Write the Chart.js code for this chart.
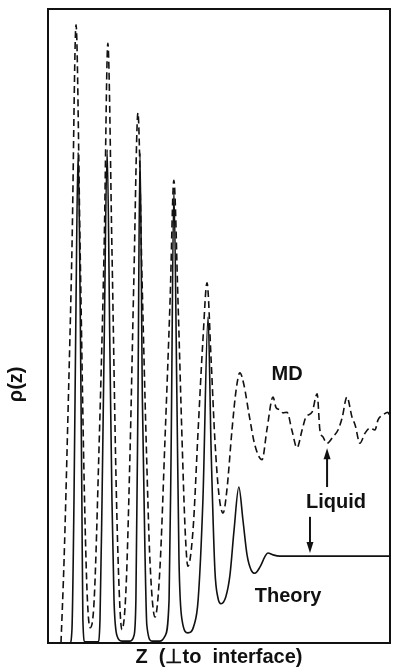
<!DOCTYPE html>
<html>
<head>
<meta charset="utf-8">
<script src="https://cdn.jsdelivr.net/npm/chart.js@4.4.1/dist/chart.umd.min.js"></script>
<style>
  html, body { margin: 0; padding: 0; background: #fff; }
  #wrap { width: 393px; height: 672px; position: relative; }
</style>
</head>
<body>
<div id="wrap"><canvas id="rho"></canvas></div>
<script>
// density profile rho(z) (Z and rho in arbitrary units, 0..10)
const zTheory = [0.12, 0.64, 0.70, 0.76, 0.82, 0.88, 0.94, 0.99, 1.02, 1.08,
  1.46, 1.52, 1.58, 1.64, 1.73, 1.81, 1.87, 1.93, 2.02, 2.16,
  2.40, 2.51, 2.57, 2.63, 2.69, 2.76, 2.84, 2.89, 3.04, 3.27,
  3.42, 3.54, 3.60, 3.68, 3.77, 3.83, 3.92, 4.09, 4.27, 4.39,
  4.53, 4.68, 4.77, 4.88, 4.97, 5.06, 5.20, 5.32, 5.44, 5.58,
  5.70, 5.82, 5.94, 6.05, 6.20, 6.35, 6.43, 6.58, 6.78, 10.0];
const rhoTheory = [0, 0, 0.21, 2.26, 5.41, 7.74, 5.41, 2.26, 0.36, 0.02,
  0.02, 0.36, 2.26, 4.62, 7.78, 4.62, 2.26, 0.68, 0.11, 0.03,
  0.03, 0.11, 0.68, 3.83, 7.73, 3.83, 1.31, 0.28, 0.03, 0.03,
  0.11, 0.68, 3.04, 7.14, 3.83, 1.31, 0.36, 0.16, 0.28, 0.68,
  2.26, 5.14, 3.04, 1.15, 0.71, 0.62, 0.73, 1.07, 1.78, 2.46,
  1.94, 1.39, 1.15, 1.10, 1.20, 1.37, 1.42, 1.39, 1.37, 1.37];

const zMD = [0.38, 0.47, 0.58, 0.70, 0.82, 0.94, 1.05, 1.14, 1.23, 1.35,
  1.49, 1.64, 1.75, 1.87, 1.99, 2.08, 2.16, 2.28, 2.40, 2.51,
  2.63, 2.75, 2.87, 2.98, 3.13, 3.27, 3.42, 3.57, 3.68, 3.80,
  3.92, 4.01, 4.09, 4.24, 4.39, 4.53, 4.65, 4.77, 4.88, 5.00,
  5.12, 5.23, 5.38, 5.50, 5.61, 5.73, 5.88, 6.05, 6.26, 6.40,
  6.58, 6.67, 6.78, 6.87, 6.99, 7.13, 7.28, 7.43, 7.54, 7.72,
  7.87, 7.95, 8.04, 8.16, 8.33, 8.48, 8.60, 8.74, 8.89, 8.98,
  9.12, 9.27, 9.42, 9.56, 9.65, 9.80, 9.94, 10.0];
const rhoMD = [0, 1.31, 3.52, 6.20, 9.75, 6.20, 2.73, 0.84, 0.24, 0.68,
  3.04, 6.20, 9.46, 6.20, 2.57, 0.84, 0.21, 0.84, 3.04, 5.73,
  8.36, 5.73, 3.20, 1.31, 0.41, 1.15, 3.20, 5.41, 7.30, 5.41,
  3.20, 1.78, 1.21, 1.78, 3.36, 4.78, 5.68, 4.46, 3.20, 2.33,
  2.05, 2.41, 3.36, 3.99, 4.26, 4.07, 3.60, 3.12, 2.89, 3.36,
  3.88, 3.71, 3.68, 3.63, 3.64, 3.36, 3.08, 3.36, 3.56, 3.64,
  3.93, 3.36, 3.25, 3.15, 3.25, 3.36, 3.55, 3.88, 3.56, 3.44,
  3.15, 3.31, 3.39, 3.36, 3.52, 3.60, 3.64, 3.55];

const ink = '#111';
const fontFamily = '"Liberation Sans", Arial, sans-serif';

function pairs(xs, ys) {
  return xs.map((x, i) => ({x: x, y: ys[i]}));
}

// text labels and arrows, in data units
const notes = [
  {text: 'MD', z: 6.99, rho: 4.23},
  {text: 'Liquid', z: 8.42, rho: 2.22},
  {text: 'Theory', z: 7.02, rho: 0.74}
];
const arrows = [
  {z: 8.16, from: 2.46, to: 3.07},
  {z: 7.66, from: 1.99, to: 1.42}
];

const figurePlugin = {
  id: 'figure',
  afterDatasetsDraw(chart) {
    const {ctx, chartArea, scales: {x, y}} = chart;
    ctx.save();
    ctx.strokeStyle = ink;
    ctx.fillStyle = ink;
    ctx.lineWidth = 2;
    ctx.strokeRect(chartArea.left, chartArea.top, chartArea.right - chartArea.left, chartArea.bottom - chartArea.top);

    ctx.font = 'bold 20px ' + fontFamily;
    ctx.textAlign = 'center';
    ctx.textBaseline = 'middle';
    notes.forEach(n => ctx.fillText(n.text, x.getPixelForValue(n.z), y.getPixelForValue(n.rho)));

    arrows.forEach(a => {
      const px = x.getPixelForValue(a.z);
      const y1 = y.getPixelForValue(a.from);
      const y2 = y.getPixelForValue(a.to);
      const dir = y2 < y1 ? 1 : -1;
      ctx.beginPath();
      ctx.moveTo(px, y1);
      ctx.lineTo(px, y2 + dir * 8);
      ctx.stroke();
      ctx.beginPath();
      ctx.moveTo(px, y2);
      ctx.lineTo(px - 3.5, y2 + dir * 11);
      ctx.lineTo(px + 3.5, y2 + dir * 11);
      ctx.closePath();
      ctx.fill();
    });

    // y axis label
    ctx.translate(16, chartArea.top + (chartArea.bottom - chartArea.top) * 0.592);
    ctx.rotate(-Math.PI / 2);
    ctx.fillText('ρ(z)', 0, 0);
    ctx.restore();
  }
};

new Chart(document.getElementById('rho'), {
  type: 'line',
  data: {
    datasets: [
      {
        label: 'MD',
        data: pairs(zMD, rhoMD),
        borderColor: ink,
        borderWidth: 1.6,
        borderDash: [7, 4],
        pointRadius: 0,
        cubicInterpolationMode: 'monotone',
        fill: false
      },
      {
        label: 'Theory',
        data: pairs(zTheory, rhoTheory),
        borderColor: ink,
        borderWidth: 1.6,
        pointRadius: 0,
        cubicInterpolationMode: 'monotone',
        fill: false
      }
    ]
  },
  options: {
    responsive: true,
    maintainAspectRatio: false,
    animation: false,
    layout: {padding: {left: 48, top: 9, right: 3, bottom: 0}},
    plugins: {
      legend: {display: false},
      tooltip: {enabled: false}
    },
    scales: {
      x: {
        type: 'linear',
        min: 0,
        max: 10,
        ticks: {display: false},
        grid: {display: false, drawTicks: false},
        border: {display: false},
        title: {
          display: true,
          text: 'Z  (⊥to  interface)',
          color: ink,
          font: {family: fontFamily, size: 20, weight: 'bold'},
          padding: {top: 2, bottom: 3}
        }
      },
      y: {
        min: 0,
        max: 10,
        ticks: {display: false},
        grid: {display: false, drawTicks: false},
        border: {display: false}
      }
    }
  },
  plugins: [figurePlugin]
});
</script>
</body>
</html>
